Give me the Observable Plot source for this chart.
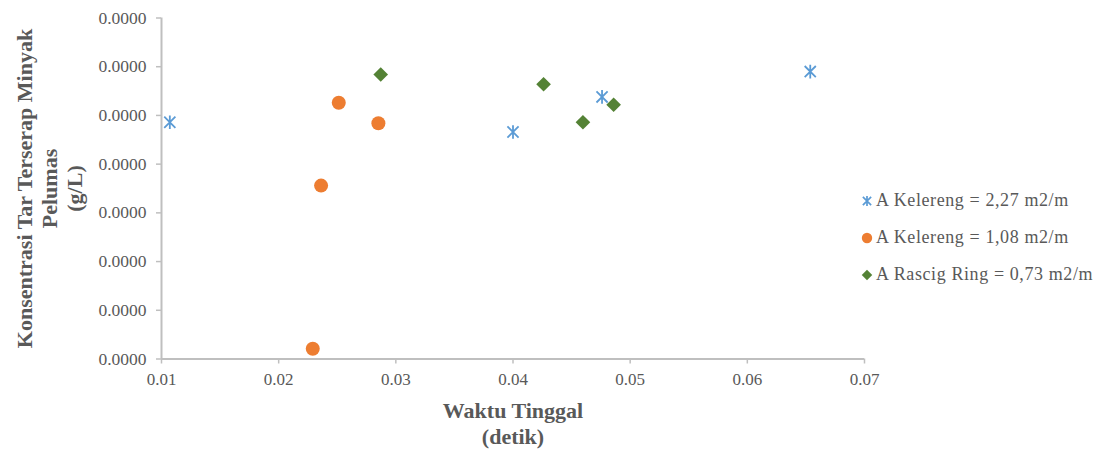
<!DOCTYPE html>
<html>
<head>
<meta charset="utf-8">
<script src="https://cdn.jsdelivr.net/npm/d3@7"></script>
<script src="https://cdn.jsdelivr.net/npm/@observablehq/plot@0.6"></script>
<style>
  html, body { margin: 0; padding: 0; background: #fff; }
  #wrap { position: relative; width: 1101px; height: 451px; font-family: "Liberation Serif", "DejaVu Serif", serif; color: #595959; }
  #wrap > svg { position: absolute; left: 0; top: 0; }
  .ytitle { position: absolute; width: 400px; height: 75px; left: -151px; top: 150.5px; transform: rotate(-90deg); transform-origin: 200px 37.5px; text-align: center; font-size: 22px; line-height: 25px; font-weight: bold; }
  .xtitle { position: absolute; width: 300px; left: 363px; top: 398px; text-align: center; font-size: 22px; line-height: 26px; font-weight: bold; }
  .legend { position: absolute; left: 859px; top: 182px; font-size: 18px; letter-spacing: 0.6px; }
  .legend .row { height: 37px; display: flex; align-items: center; white-space: nowrap; }
  .legend .row svg { display: block; margin-right: 1px; }
</style>
</head>
<body>
<div id="wrap"></div>
<script>
// Series: A Kelereng = 2,27 m2/m (star, blue)
const kelereng227X = [0.01071, 0.04000, 0.04760, 0.06537];
const kelereng227Y = [0.0000243, 0.0000233, 0.0000269, 0.0000295];
// Series: A Kelereng = 1,08 m2/m (circle, orange)
const kelereng108X = [0.02291, 0.02362, 0.02513, 0.02851];
const kelereng108Y = [0.00000105, 0.0000178, 0.0000263, 0.0000242];
// Series: A Rascig Ring = 0,73 m2/m (diamond, green)
const rascigX = [0.02871, 0.04261, 0.04597, 0.04859];
const rascigY = [0.0000292, 0.0000282, 0.0000243, 0.0000261];

const seriesNames = ["A Kelereng = 2,27 m2/m", "A Kelereng = 1,08 m2/m", "A Rascig Ring = 0,73 m2/m"];
const seriesColors = ["#5b9bd5", "#ed7d31", "#548235"];
const xTicks = [0.01, 0.02, 0.03, 0.04, 0.05, 0.06, 0.07];
const yTicks = [0, 0.000005, 0.00001, 0.000015, 0.00002, 0.000025, 0.00003, 0.000035];
const xTitle = ["Waktu Tinggal", "(detik)"];
const yTitle = ["Konsentrasi Tar Terserap Minyak", "Pelumas", "(g/L)"];

const toRows = (xs, ys) => xs.map((x, i) => ({x, y: ys[i]}));
const s1 = toRows(kelereng227X, kelereng227Y);
const s2 = toRows(kelereng108X, kelereng108Y);
const s3 = toRows(rascigX, rascigY);

const axisColor = "#bfbfbf";
const textColor = "#595959";

// Excel-style star marker: an X plus a vertical bar
const starSymbol = {
  draw(context, size) {
    const r = Math.sqrt(size / Math.PI);
    const d = r * 0.82;
    context.moveTo(-d, -d); context.lineTo(d, d);
    context.moveTo(d, -d); context.lineTo(-d, d);
    context.moveTo(0, -r); context.lineTo(0, r);
  }
};

const chart = Plot.plot({
  width: 1101,
  height: 451,
  marginLeft: 161,
  marginRight: 237,
  marginTop: 17.5,
  marginBottom: 92.5,
  style: { fontFamily: '"Liberation Serif", "DejaVu Serif", serif', fontSize: "17px", color: textColor, background: "#fff" },
  x: { domain: [0.01, 0.07], ticks: xTicks },
  y: { domain: [0, 0.000035], ticks: yTicks },
  marks: [
    Plot.axisX({ ticks: xTicks, tickFormat: d => d.toFixed(2), tickSize: 5, tickPadding: 9, stroke: axisColor, strokeWidth: 1.5, fill: textColor, fontSize: 17, label: null }),
    Plot.axisY({ ticks: yTicks, tickFormat: d3.format(".4f"), tickSize: 5, tickPadding: 10, stroke: axisColor, strokeWidth: 1.5, fill: textColor, fontSize: 17.5, label: null, style: { letterSpacing: "0.6px" } }),
    Plot.ruleY([0], { stroke: axisColor, strokeWidth: 2 }),
    Plot.ruleX([0.01], { stroke: axisColor, strokeWidth: 2 }),
    Plot.dot(s1, { x: "x", y: "y", symbol: starSymbol, r: 6.8, stroke: seriesColors[0], strokeWidth: 1.8 }),
    Plot.dot(s2, { x: "x", y: "y", symbol: "circle", r: 7, fill: seriesColors[1], stroke: "none" }),
    Plot.dot(s3, { x: "x", y: "y", symbol: "diamond2", r: 6.6, fill: seriesColors[2], stroke: "none" })
  ]
});

const wrap = document.getElementById("wrap");
wrap.appendChild(chart);

const yt = document.createElement("div");
yt.className = "ytitle";
yt.innerHTML = yTitle.join("<br>");
wrap.appendChild(yt);

const xt = document.createElement("div");
xt.className = "xtitle";
xt.innerHTML = xTitle.join("<br>");
wrap.appendChild(xt);

// Legend
const legend = document.createElement("div");
legend.className = "legend";
const legendSymbols = [starSymbol, d3.symbolCircle, d3.symbolDiamond2];
const legendSizes = [80, 85, 70];
seriesNames.forEach((name, i) => {
  const row = document.createElement("div");
  row.className = "row";
  const svg = d3.create("svg").attr("width", 16).attr("height", 16);
  const sym = d3.symbol().type(legendSymbols[i]).size(legendSizes[i]);
  const p = svg.append("path").attr("d", sym()).attr("transform", "translate(8,8)");
  if (i === 0) p.attr("fill", "none").attr("stroke", seriesColors[i]).attr("stroke-width", 1.7);
  else p.attr("fill", seriesColors[i]);
  row.appendChild(svg.node());
  const t = document.createElement("span");
  t.textContent = name;
  row.appendChild(t);
  legend.appendChild(row);
});
wrap.appendChild(legend);
</script>
</body>
</html>
